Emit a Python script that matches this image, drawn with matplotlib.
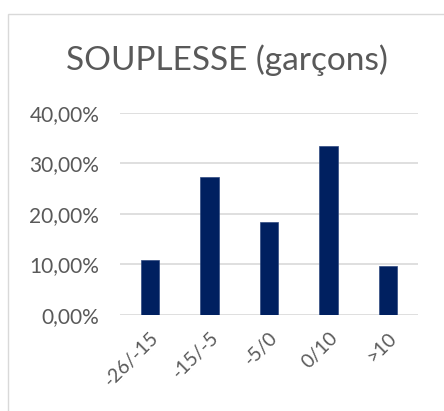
import matplotlib
matplotlib.use('Agg')
import matplotlib.pyplot as plt
from matplotlib.patches import Rectangle
from matplotlib.ticker import FuncFormatter

categories = ['-26/-15', '-15/-5', '-5/0', '0/10', '>10']
values = [0.109, 0.274, 0.183, 0.335, 0.097]

plt.rcParams['font.family'] = ['Lato', 'DejaVu Sans']

fig = plt.figure(figsize=(4.44, 4.11), dpi=100)
# chart frame
fig.patches.append(Rectangle((8 / 444, -0.1), 1.0, 1 - 14 / 411 + 0.1, transform=fig.transFigure,
                             fill=False, edgecolor='#d9d9d9', linewidth=1))

ax = fig.add_axes([120 / 444, 1 - 314.7 / 411, 298 / 444, 201.7 / 411])
x = range(len(categories))
ax.bar(x, values, width=0.31, color='#002060', edgecolor='#2f4a80', linewidth=0.5, zorder=3)
ax.set_xlim(-0.5, len(categories) - 0.5)
ax.set_ylim(0, 0.4)
ax.set_yticks([0, 0.1, 0.2, 0.3, 0.4])
ax.yaxis.set_major_formatter(FuncFormatter(lambda v, p: f'{v * 100:.2f}%'.replace('.', ',')))
ax.grid(axis='y', color='#d9d9d9', linewidth=1.2, zorder=0)
for s in ax.spines.values():
    s.set_visible(False)
ax.tick_params(length=0, labelsize=14, colors='#595959')
ax.tick_params(axis='y', labelsize=15, pad=15)
ax.set_xticks(list(x))
ax.set_xticklabels(categories, rotation=45, ha='right', rotation_mode='anchor')
ax.tick_params(axis='x', pad=10)

fig.text(227 / 444, 1 - 60 / 411, 'SOUPLESSE (garçons)', ha='center', va='center',
         fontsize=24, color='#595959')

fig.savefig('out.png', dpi=100)
